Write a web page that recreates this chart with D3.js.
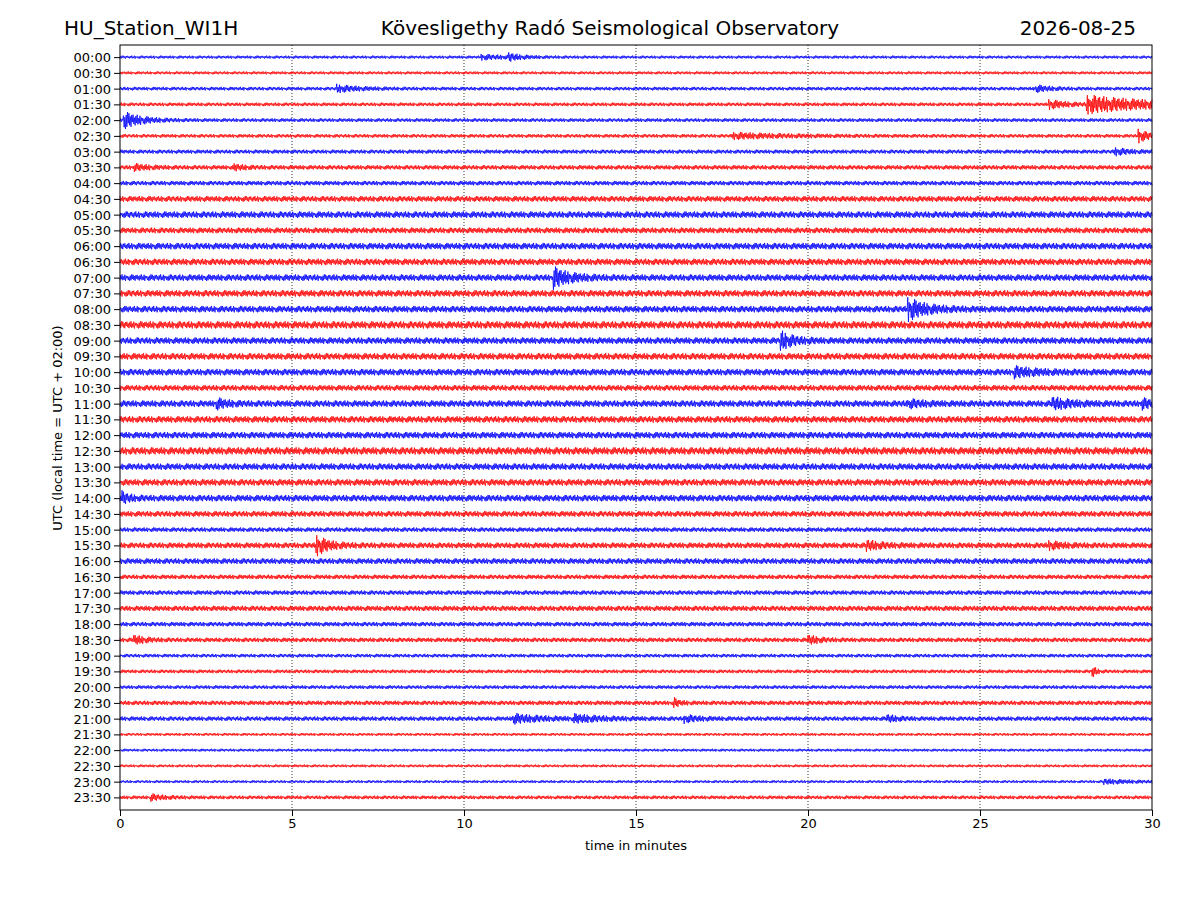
<!DOCTYPE html>
<html><head><meta charset="utf-8">
<script src="https://cdn.jsdelivr.net/npm/d3@7"></script>
<style>body{margin:0;background:#fff}text{font-family:"DejaVu Sans",sans-serif}</style>
</head><body>
<svg id="c" width="1200" height="900"></svg>
<script>
const rowLabels = [];
for (let h = 0; h < 24; h++) { const hh = String(h).padStart(2,"0"); rowLabels.push(hh+":00", hh+":30"); }
const xTicks = [0,5,10,15,20,25,30];
// background noise half-amplitude per row (pixels)
const baseAmp = [1.5,1.5,1.8,1.8,1.8,1.8,2,2.2,2.2,2.8,3.2,2.8,3.2,3.2,3.2,3.2,3.2,3.6,3.2,3.2,3.2,2.8,3.2,3.2,3.2,3.6,3.2,3.2,3.2,2.8,2.2,2.8,2.8,2.2,2.2,2.6,2.2,2.2,1.8,1.8,1.8,2.2,2.2,1.4,1.4,1.4,1.4,1.8];
// events: [row, start minute, peak half-amplitude px, decay minutes]
const events = [
 [0,10.5,2,0.8],[0,11.3,3,0.3],[2,6.3,3,0.6],[2,26.6,3,0.4],
 [3,27,4,0.5],[3,28.1,8,2],[4,0.1,8,0.5],[5,17.8,2.5,1.5],[5,29.6,6,0.3],
 [6,28.9,3,0.4],[7,0.4,2.5,0.4],[7,3.3,2.5,0.3],[14,12.6,9,0.45],[16,22.9,10,0.5],
 [18,19.2,8,0.35],[20,26.0,4,0.6],[22,2.8,4,0.3],[22,22.9,3,0.4],[22,27.1,5,0.5],[22,29.7,4,0.3],
 [28,0.05,5,0.2],[31,5.7,9,0.35],[31,21.7,4,0.4],[31,27,3,0.4],
 [37,0.4,4,0.3],[37,20.0,4,0.3],[39,28.25,7,0.1],[41,16.1,4,0.15],
 [42,11.4,4,0.8],[42,13.2,3,0.8],[42,16.4,3,0.4],[42,22.3,3,0.3],
 [46,28.6,2,0.8],[47,0.9,2.5,0.4]
];
const wiggle = [1,-0.6,0.8,-1,0.4,-0.9,0.7,-0.5,0.95,-0.75,0.3,-0.85,0.6,-0.4,0.9,-0.7,0.5,-1,0.8,-0.35,0.65,-0.9,1,-0.55,0.2,-0.45,0.75,-0.3];

const svg = d3.select("#c");
const L=120,R=1152,T=45,B=810;
const x = d3.scaleLinear().domain([0,30]).range([L,R]);
const y = d3.scaleLinear().domain([-0.77,47.8]).range([T,B]);

svg.append("g").selectAll("line").data(xTicks.slice(1,-1)).join("line")
 .attr("x1",d=>x(d)).attr("x2",d=>x(d)).attr("y1",T).attr("y2",B)
 .attr("stroke","#000").attr("stroke-width",0.8).attr("stroke-dasharray","1,2");

const N = 1500;
rowLabels.forEach((lab,i)=>{
  const pts=[];
  for(let k=0;k<=N;k++){
    const t=30*k/N;
    let a=baseAmp[i];
    events.filter(e=>e[0]===i).forEach(e=>{ if(t>=e[1]) a+=e[2]*Math.exp(-(t-e[1])/e[3]); });
    const w=wiggle[(k+i*5)%wiggle.length];
    pts.push([x(t), y(i)+a*w]);
  }
  svg.append("path").attr("d",d3.line()(pts)).attr("fill","none")
   .attr("stroke", i%2===0?"#0000ff":"#ff0000").attr("stroke-width",0.8);
});

svg.append("rect").attr("x",L).attr("y",T).attr("width",R-L).attr("height",B-T).attr("fill","none").attr("stroke","#000");
const xa = svg.append("g").attr("transform",`translate(0,${B})`).call(d3.axisBottom(x).tickValues(xTicks).tickFormat(d3.format("d")).tickSizeOuter(0));
const ya = svg.append("g").attr("transform",`translate(${L},0)`).call(d3.axisLeft(y).tickValues(d3.range(48)).tickFormat(i=>rowLabels[i]).tickSizeOuter(0));
[xa,ya].forEach(a=>{a.select(".domain").remove();a.selectAll("text").attr("font-size",13).attr("fill","#000").style("font-family","DejaVu Sans");});
ya.selectAll("text").attr("dy","0.35em");

svg.append("text").attr("x",636).attr("y",850).attr("text-anchor","middle").attr("font-size",13).text("time in minutes");
svg.append("text").attr("transform","translate(62,428) rotate(-90)").attr("text-anchor","middle").attr("font-size",13).text("UTC (local time = UTC + 02:00)");
svg.append("text").attr("x",64).attr("y",35).attr("font-size",20).text("HU_Station_WI1H");
svg.append("text").attr("x",610).attr("y",35).attr("text-anchor","middle").attr("font-size",20).text("Kövesligethy Radó Seismological Observatory");
svg.append("text").attr("x",1136).attr("y",35).attr("text-anchor","end").attr("font-size",20).text("2026-08-25");
</script>
</body></html>
